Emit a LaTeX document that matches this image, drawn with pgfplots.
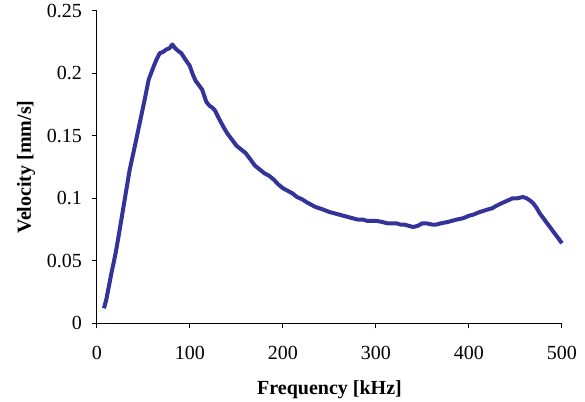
\documentclass[border=0pt]{standalone}
\usepackage{pgfplots}
\pgfplotsset{compat=1.18}
\usepackage{fontspec}
\setmainfont{Liberation Serif}
\definecolor{lineblue}{HTML}{333399}
\begin{document}
\begin{tikzpicture}
\begin{axis}[
  scale only axis,
  width=232.5pt, height=156.3pt,
  xmin=0, xmax=500, ymin=0, ymax=0.25,
  xtick={0,100,...,500},
  ytick={0,0.05,0.1,0.15,0.2,0.25},
  yticklabels={0,0.05,0.1,0.15,0.2,0.25},
  axis lines=left,
  axis line style={-, line width=0.5pt},
  tick align=outside,
  tick style={black, line width=0.5pt},
  major tick length=2.5pt,
  /pgf/number format/assume math mode=true,
  tick label style={font=\fontsize{10}{12}\selectfont},
  xticklabel style={yshift=-5.5pt},
  yticklabel style={xshift=-1.5pt},
  label style={font=\fontsize{10}{12}\selectfont\bfseries},
  xlabel={Frequency [kHz]},
  ylabel={Velocity [mm/s]},
  xlabel style={at={(axis description cs:0.5,-0.212)}, anchor=center},
  ylabel style={at={(axis description cs:-0.1527,0.5)}, anchor=center, rotate=0},
  clip=false,
]
\addplot[lineblue, line width=2pt, line join=round] coordinates {
(7.5,0.012) (10,0.019) (15.5,0.040) (20,0.056) (22.6,0.067) (26,0.082) (29.8,0.099)
(35.2,0.123) (40.5,0.141) (45.9,0.160) (51.3,0.179) (55.6,0.195) (60.2,0.204)
(64,0.211) (67.4,0.216) (71,0.217) (74.6,0.219) (78,0.220) (81,0.223) (84,0.220)
(87,0.218) (90.7,0.216) (95,0.211) (99.7,0.206) (103,0.199) (106,0.194)
(110,0.190) (113,0.187) (117.6,0.177) (121,0.174) (124.7,0.172) (127,0.170)
(131,0.164) (136,0.157) (140,0.152) (145,0.147) (150,0.142) (155,0.139)
(160,0.136) (165,0.131) (170,0.126) (175,0.123) (180,0.120) (185,0.118)
(190,0.115) (195,0.111) (200,0.108) (205,0.106) (210,0.104) (215,0.101)
(221,0.099) (225,0.097) (230,0.095) (235,0.093) (243,0.091) (250,0.089)
(255,0.088) (260,0.087) (265,0.086) (270,0.085) (275,0.084) (280,0.083)
(286,0.083) (290,0.082) (295,0.082) (300,0.082) (307,0.081) (312,0.080)
(317,0.080) (322,0.080) (326,0.079) (330,0.079) (335,0.078) (340,0.077)
(345,0.078) (350,0.080) (354,0.080) (360,0.079) (365,0.079) (370,0.080)
(377,0.081) (382,0.082) (387,0.083) (393.5,0.084) (400,0.086) (405,0.087)
(411.5,0.089) (416,0.090) (420,0.091) (425,0.092) (429.5,0.094) (435,0.096)
(441,0.098) (447,0.100) (452,0.100) (458,0.101) (462,0.100) (466,0.098)
(469,0.096) (473,0.092) (476,0.088) (480,0.084) (485,0.079) (490,0.074)
(495,0.069) (500,0.064)
};
\end{axis}
\pgfresetboundingbox
\path (-48.5pt,-39.35pt) rectangle (244pt,161.65pt);
\end{tikzpicture}
\end{document}
